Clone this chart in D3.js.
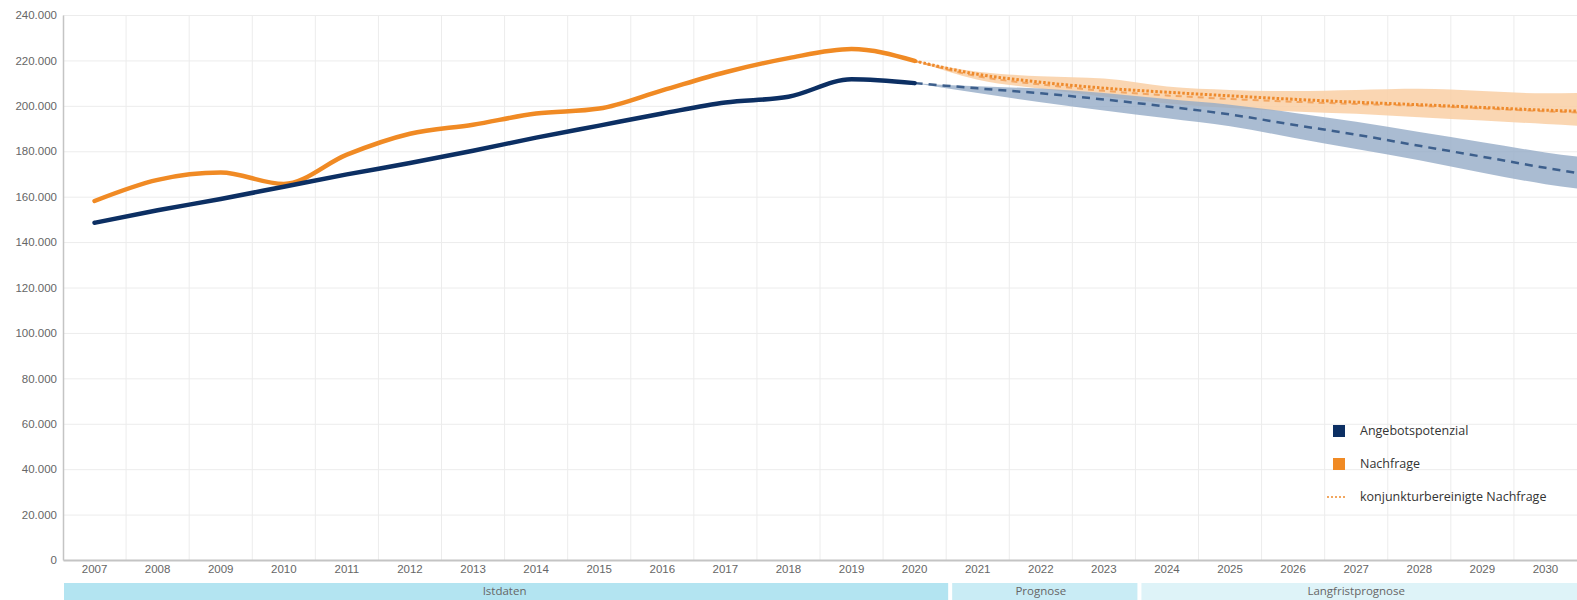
<!DOCTYPE html>
<html>
<head>
<meta charset="utf-8">
<script src="https://cdn.jsdelivr.net/npm/d3@7"></script>
<style>
  body { margin: 0; background: #fff; }
  svg { display: block; font-family: 'Open Sans', sans-serif; }
  .axis text { fill: #666; }
  .grid line { stroke: #ececec; }
  .grid .domain { display: none; }
</style>
</head>
<body>
<div id="wrapper"></div>
<script>
// --- data (values in 1000) ---
const years = d3.range(2007, 2031);
const yTicks = d3.range(0, 240001, 20000);

const histYears = d3.range(2007, 2021);
const angebotHist = [148.5, 154, 159, 164.4, 169.8, 174.8, 180.2, 186, 191.3, 196.6, 201.5, 204, 211.7, 210];
const nachfrageHist = [158.1, 167.4, 170.6, 165.6, 178.5, 187.7, 191.7, 196.6, 198.8, 206.8, 214.8, 221, 225, 219.8];

const progYears = d3.range(2020, 2032);
const angebotProg = [210, 207.7, 205.5, 202.8, 199.7, 196.2, 191.7, 187.3, 182.4, 177.6, 172.7, 168.3];
const angebotUpper = [210, 208.6, 207.6, 205.6, 203, 200.5, 197, 193, 188.5, 184, 179.5, 176];
const angebotLower = [210, 205.6, 201.6, 198, 194.5, 191, 186, 181, 176, 170.5, 165.5, 162];
const nachfrageProg = [219.8, 213, 209.4, 206.6, 204.6, 203, 201.8, 200.8, 200, 198.9, 197.6, 196.6];
const konjunkturProg = [219.8, 213.9, 210.4, 207.8, 206, 204.4, 202.9, 201.6, 200.5, 199.3, 198.1, 197.3];
const nachfrageUpper = [219.8, 215, 213, 212, 208.5, 207, 206.5, 207, 207.5, 206.5, 205.5, 206];
const nachfrageLower = [219.8, 211.5, 207.5, 204, 201, 199, 197.5, 196.5, 195, 193.5, 192, 190.5];

const phases = ['Istdaten', 'Prognose', 'Langfristprognose'];
const phaseStart = [2007, 2021, 2024];
const phaseEnd = [2020, 2023, 2030];

const legendLabels = ['Angebotspotenzial', 'Nachfrage', 'konjunkturbereinigte Nachfrage'];

// --- layout ---
let width = 1577, height = 600,
    margin = { left: 63, top: 15, right: 0, bottom: 40 },
    navy = '#0c2f63', orange = '#f08a24';

let svg = d3.select('div#wrapper')
            .append('svg')
            .attr('width', width)
            .attr('height', height);

let x = d3.scaleBand()
          .domain(years)
          .range([margin.left, width - margin.right]);

let step = x.step();
let xc = d3.scaleLinear()
           .domain([2007, 2030])
           .range([margin.left + step / 2, width - margin.right - step / 2]);

let y = d3.scaleLinear()
          .domain([0, 240000])
          .range([height - margin.bottom, margin.top]);

let de = d3.formatLocale({ decimal: ',', thousands: '.', grouping: [3], currency: ['', ' €'] });

// grid
svg.append('g')
   .attr('class', 'grid')
   .attr('transform', 'translate(' + margin.left + ',0)')
   .call(d3.axisLeft(y).tickValues(yTicks.slice(1)).tickSize(-(width - margin.left)).tickFormat(''));

svg.append('g')
   .attr('class', 'grid')
   .selectAll('line')
   .data(years.slice(1))
   .enter()
   .append('line')
   .attr('x1', d => x(d)).attr('x2', d => x(d))
   .attr('y1', margin.top).attr('y2', height - margin.bottom);

// axes
let yAxis = svg.append('g')
   .attr('class', 'y axis')
   .attr('transform', 'translate(' + margin.left + ',0)')
   .call(d3.axisLeft(y).tickValues(yTicks).tickSize(0).tickPadding(6).tickFormat(de.format(',d')));
yAxis.select('.domain').attr('stroke', '#c4c4c4').attr('stroke-width', 1.5);
yAxis.selectAll('text').style('font-size', '11.5px');

let xAxis = svg.append('g')
   .attr('class', 'x axis')
   .attr('transform', 'translate(0,' + (height - margin.bottom) + ')')
   .call(d3.axisBottom(x).tickSize(0).tickPadding(5));
xAxis.select('.domain').attr('stroke', '#c4c4c4').attr('stroke-width', 2);
xAxis.selectAll('text').style('font-size', '11.5px');

// phase bands under the axis
let phaseColors = ['#b3e4f1', '#c9ecf5', '#def3f8'];
let phaseG = svg.append('g');
phaseG.selectAll('rect')
   .data(phases)
   .enter()
   .append('rect')
   .attr('x', (d, i) => i === 0 ? x(phaseStart[i]) + 1 : x(phaseStart[i]) + 6)
   .attr('width', (d, i) => x(phaseEnd[i]) + step - (i === 0 ? x(phaseStart[i]) + 1 : x(phaseStart[i]) + 6) + (i === 2 ? 0 : 2))
   .attr('y', 583)
   .attr('height', 17)
   .attr('fill', (d, i) => phaseColors[i]);
phaseG.selectAll('text')
   .data(phases)
   .enter()
   .append('text')
   .attr('x', (d, i) => (x(phaseStart[i]) + x(phaseEnd[i]) + step) / 2)
   .attr('y', 595)
   .attr('text-anchor', 'middle')
   .style('font-size', '11.5px')
   .attr('fill', '#666')
   .text(d => d);

// clip plot area
svg.append('clipPath').attr('id', 'plot')
   .append('rect')
   .attr('x', margin.left).attr('y', margin.top)
   .attr('width', width - margin.left - margin.right)
   .attr('height', height - margin.top - margin.bottom);

let plot = svg.append('g').attr('clip-path', 'url(#plot)');

let line = d3.line().x(d => xc(d[0])).y(d => y(d[1] * 1000)).curve(d3.curveMonotoneX);
let area = d3.area().x(d => xc(d[0])).y0(d => y(d[1] * 1000)).y1(d => y(d[2] * 1000)).curve(d3.curveMonotoneX);

// forecast ranges
plot.append('path')
   .datum(progYears.map((yr, i) => [yr, nachfrageLower[i], nachfrageUpper[i]]))
   .attr('d', area)
   .attr('fill', '#f9cfa5')
   .attr('opacity', 0.85);

plot.append('path')
   .datum(progYears.map((yr, i) => [yr, angebotLower[i], angebotUpper[i]]))
   .attr('d', area)
   .attr('fill', '#95abc7')
   .attr('opacity', 0.8);

// forecast lines
plot.append('path')
   .datum(progYears.map((yr, i) => [yr, angebotProg[i]]))
   .attr('d', line)
   .attr('fill', 'none')
   .attr('stroke', '#3d5f8c')
   .attr('stroke-width', 2.5)
   .attr('stroke-dasharray', '8,6');

plot.append('path')
   .datum(progYears.map((yr, i) => [yr, nachfrageProg[i]]))
   .attr('d', line)
   .attr('fill', 'none')
   .attr('stroke', '#f3a661')
   .attr('stroke-width', 2)
   .attr('stroke-dasharray', '6,5');

plot.append('path')
   .datum(progYears.map((yr, i) => [yr, konjunkturProg[i]]))
   .attr('d', line)
   .attr('fill', 'none')
   .attr('stroke', '#ee8a2c')
   .attr('stroke-width', 3)
   .attr('stroke-dasharray', '2.5,2');

// history lines
plot.append('path')
   .datum(histYears.map((yr, i) => [yr, nachfrageHist[i]]))
   .attr('d', line)
   .attr('fill', 'none')
   .attr('stroke', orange)
   .attr('stroke-width', 4.5)
   .attr('stroke-linecap', 'round');

plot.append('path')
   .datum(histYears.map((yr, i) => [yr, angebotHist[i]]))
   .attr('d', line)
   .attr('fill', 'none')
   .attr('stroke', navy)
   .attr('stroke-width', 4.5)
   .attr('stroke-linecap', 'round');

// legend
let legend = svg.append('g').attr('transform', 'translate(1333,0)');
let rowY = [431, 464, 497];
legend.selectAll('rect')
   .data([navy, orange])
   .enter()
   .append('rect')
   .attr('x', 0)
   .attr('y', (d, i) => rowY[i] - 6)
   .attr('width', 12).attr('height', 12)
   .attr('fill', d => d);
legend.append('line')
   .attr('x1', -6).attr('x2', 14)
   .attr('y1', rowY[2]).attr('y2', rowY[2])
   .attr('stroke', '#ee8a2c')
   .attr('stroke-width', 1.5)
   .attr('stroke-dasharray', '2,2');
legend.selectAll('text')
   .data(legendLabels)
   .enter()
   .append('text')
   .attr('x', 27)
   .attr('y', (d, i) => rowY[i] + 4)
   .style('font-size', '12.5px')
   .attr('fill', '#333')
   .text(d => d);
</script>
</body>
</html>
